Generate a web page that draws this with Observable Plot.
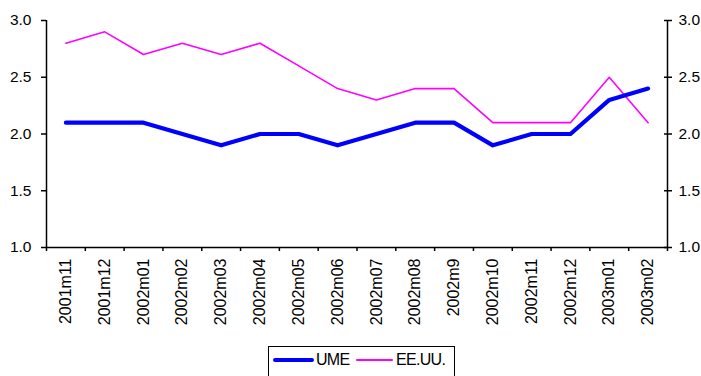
<!DOCTYPE html>
<html>
<head>
<meta charset="utf-8">
<script src="https://cdn.jsdelivr.net/npm/d3@7"></script>
<script src="https://cdn.jsdelivr.net/npm/@observablehq/plot@0.6"></script>
<style>
  html, body { margin: 0; padding: 0; background: #fff; overflow: hidden; }
  body { width: 701px; height: 376px; font-family: "Liberation Sans", Arial, sans-serif; }
  #legend {
    position: relative; margin-left: 268px; margin-top: 2px;
    width: 187px; height: 40px; border: 1.5px solid #000; box-sizing: border-box;
    font-size: 16px; color: #000;
  }
  .sw { position: absolute; top: 12px; }
  .lab { position: absolute; top: 4px; letter-spacing: -0.7px; }
</style>
</head>
<body>
<div id="chart"></div>
<div id="legend"></div>
<script>
const months = ["2001m11","2001m12","2002m01","2002m02","2002m03","2002m04","2002m05","2002m06",
                "2002m07","2002m08","2002m9","2002m10","2002m11","2002m12","2003m01","2003m02"];
const ume  = [2.1, 2.1, 2.1, 2.0, 1.9, 2.0, 2.0, 1.9, 2.0, 2.1, 2.1, 1.9, 2.0, 2.0, 2.3, 2.4];
const eeuu = [2.8, 2.9, 2.7, 2.8, 2.7, 2.8, 2.6, 2.4, 2.3, 2.4, 2.4, 2.1, 2.1, 2.1, 2.5, 2.1];
const yTicks = [1.0, 1.5, 2.0, 2.5, 3.0];
const seriesNames = ["UME", "EE.UU."];
const seriesColors = ["#0000ff", "#ff00ff"];

const rows = months.map((m, i) => ({pos: i + 0.5, month: m, ume: ume[i], eeuu: eeuu[i]}));
const boundaries = d3.range(0, months.length + 1);
const centers = months.map((m, i) => i + 0.5);

const chart = Plot.plot({
  width: 701,
  height: 344,
  marginLeft: 46,
  marginRight: 34,
  marginTop: 20,
  marginBottom: 97,
  style: {fontFamily: "'Liberation Sans', Arial, sans-serif", fontSize: "15.5px", color: "#000", background: "#fff"},
  x: {domain: [0, months.length], axis: null},
  y: {domain: [1, 3], axis: null},
  marks: [
    Plot.ruleX([0, months.length], {y1: 1, y2: 3, stroke: "#000", strokeWidth: 1.5}),
    Plot.ruleY([1], {stroke: "#000", strokeWidth: 1.5}),
    Plot.axisX({ticks: boundaries, tickSize: 4, tickFormat: () => "", strokeWidth: 1.5, label: null}),
    Plot.axisX({ticks: centers, tickSize: 0, tickPadding: 11, tickRotate: -90, fontSize: 16,
                tickFormat: v => months[Math.floor(v)], label: null}),
    Plot.axisY({anchor: "left", ticks: yTicks, tickSize: 5, tickPadding: 10, strokeWidth: 1.5,
                tickFormat: d => d.toFixed(1), label: null}),
    Plot.axisY({anchor: "right", ticks: yTicks, tickSize: 8, dx: -4, tickFormat: () => "", strokeWidth: 1.5, label: null}),
    Plot.axisY({anchor: "right", ticks: yTicks, tickSize: 0, tickPadding: 11,
                tickFormat: d => d.toFixed(1), label: null}),
    Plot.line(rows, {x: "pos", y: "eeuu", stroke: seriesColors[1], strokeWidth: 1.6}),
    Plot.line(rows, {x: "pos", y: "ume", stroke: seriesColors[0], strokeWidth: 4.2})
  ]
});
document.getElementById("chart").appendChild(chart);

const lg = document.getElementById("legend");
const swLeft = [4, 87];
const swWidths = [41, 37];
const swThick = [4, 2];
const labLeft = [47, 127];
seriesNames.forEach((name, i) => {
  const sw = document.createElement("div");
  sw.className = "sw";
  sw.style.left = swLeft[i] + "px";
  sw.style.width = swWidths[i] + "px";
  sw.style.height = swThick[i] + "px";
  sw.style.marginTop = (i === 0 ? -1 : 0) + "px";
  sw.style.background = seriesColors[i];
  sw.style.borderRadius = "2px";
  lg.appendChild(sw);
  const t = document.createElement("div");
  t.className = "lab";
  t.style.left = labLeft[i] + "px";
  t.textContent = name;
  lg.appendChild(t);
});
</script>
</body>
</html>
